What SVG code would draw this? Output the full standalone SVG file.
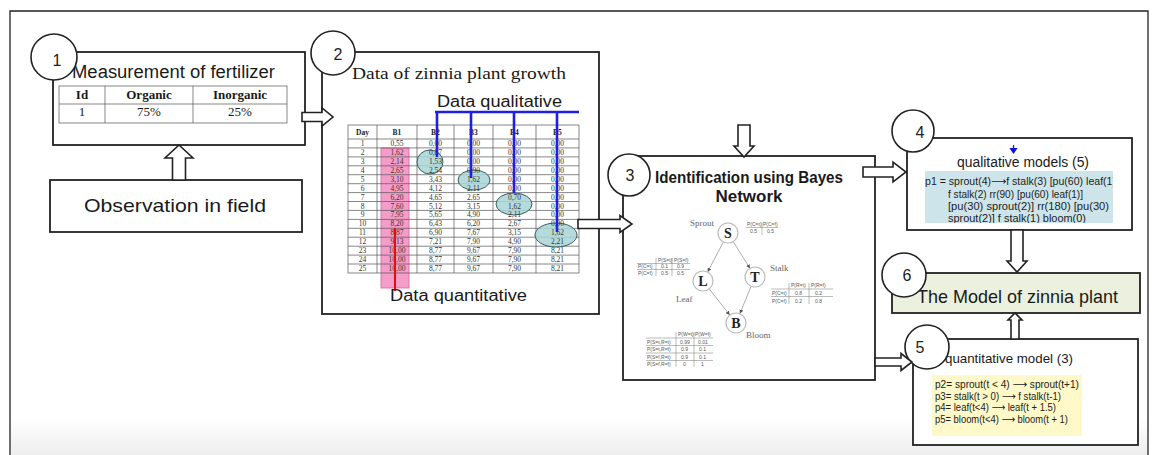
<svg xmlns="http://www.w3.org/2000/svg" width="1155" height="455" viewBox="0 0 1155 455">
  <style>
    .box { fill: #fff; stroke: #222; stroke-width: 1.8; }
    .num { fill: #fff; stroke: #222; stroke-width: 1.6; }
    .numt { font-family: "Liberation Sans", Arial, sans-serif; font-size: 16px; fill: #222; text-anchor: middle; }
    .sans { font-family: "Liberation Sans", Arial, sans-serif; fill: #1a1a1a; }
    .serif { font-family: "Liberation Serif", "Times New Roman", serif; fill: #1a1a1a; }
    .hollow { fill: #fff; stroke: #222; stroke-width: 1.6; stroke-linejoin: miter; }
    .grid { stroke: #555; stroke-width: 0.7; fill: none; }
    .cell { font-family: "Liberation Serif", "Times New Roman", serif; font-size: 7.5px; fill: #333; text-anchor: middle; }
    .cellh { font-family: "Liberation Serif", "Times New Roman", serif; font-size: 7.5px; font-weight: bold; fill: #222; text-anchor: middle; }
    .qual { stroke: #1f1fe0; stroke-width: 2.6; fill: none; }
    .oval { fill: #a9d5d6; fill-opacity: 0.85; stroke: #3c5a5c; stroke-width: 1; }
    .tiny { font-family: "Liberation Sans", Arial, sans-serif; font-size: 5px; fill: #555; }
    .tline { stroke: #777; stroke-width: 0.5; }
    .bn { fill: #fff; stroke: #bbb; stroke-width: 1.2; }
    .bnl { font-family: "Liberation Serif", "Times New Roman", serif; font-size: 14px; font-weight: bold; fill: #222; text-anchor: middle; }
    .bnn { font-family: "Liberation Serif", "Times New Roman", serif; font-size: 9px; fill: #666; }
    .edge { stroke: #999; stroke-width: 0.8; fill: none; marker-end: url(#tip); }
    .rule { font-family: "Liberation Sans", Arial, "DejaVu Sans", sans-serif; font-size: 10.5px; fill: #222; }
  </style>
  <defs>
    <marker id="tip" viewBox="0 0 6 6" refX="5.5" refY="3" markerWidth="5" markerHeight="5" orient="auto">
      <path d="M0,0 L6,3 L0,6 z" fill="#555"/>
    </marker>
    <clipPath id="qclip"><rect x="925" y="171" width="188" height="52"/></clipPath>
    <linearGradient id="floor" x1="0" y1="0" x2="0" y2="1">
      <stop offset="0" stop-color="#ffffff"/>
      <stop offset="1" stop-color="#ededed"/>
    </linearGradient>
  </defs>

  <rect width="1155" height="455" fill="#fff"/>
  <rect x="11" y="418" width="1136" height="37" fill="url(#floor)"/>
  <!-- outer frame -->
  <path d="M10,470 V11 H1148 V470" fill="none" stroke="#222" stroke-width="1.3"/>

  <!-- 1: fertilizer measurement -->
  <g id="node-fertilizer">
    <rect class="box" x="53" y="52" width="252" height="93"/>
    <text class="sans" x="72" y="78" font-size="18" textLength="203" lengthAdjust="spacingAndGlyphs">Measurement of fertilizer</text>
    <rect class="grid" x="59" y="86" width="228" height="37" stroke-width="1"/>
    <line class="grid" x1="59" y1="104" x2="287" y2="104" stroke-width="1"/>
    <line class="grid" x1="105" y1="86" x2="105" y2="123" stroke-width="1"/>
    <line class="grid" x1="193" y1="86" x2="193" y2="123" stroke-width="1"/>
    <text class="serif" x="82" y="99" font-size="13" font-weight="bold" text-anchor="middle">Id</text>
    <text class="serif" x="149" y="99" font-size="13" font-weight="bold" text-anchor="middle">Organic</text>
    <text class="serif" x="240" y="99" font-size="13" font-weight="bold" text-anchor="middle">Inorganic</text>
    <text class="serif" x="82" y="116" font-size="13" text-anchor="middle">1</text>
    <text class="serif" x="149" y="116" font-size="13" text-anchor="middle">75%</text>
    <text class="serif" x="240" y="116" font-size="13" text-anchor="middle">25%</text>
    <circle class="num" cx="54" cy="57" r="23"/>
    <text class="numt" x="57" y="66">1</text>
  </g>

  <!-- field observation -->
  <g id="node-observation">
    <rect class="box" x="50" y="180" width="252" height="52"/>
    <text class="sans" x="84" y="212" font-size="19" textLength="182" lengthAdjust="spacingAndGlyphs">Observation in field</text>
  </g>

  <!-- 2: growth data table -->
  <g id="node-growth">
    <rect class="box" x="322" y="52" width="277" height="262"/>
    <text class="serif" x="352" y="79" font-size="17" textLength="214" lengthAdjust="spacingAndGlyphs">Data of zinnia plant growth</text>
    <text class="sans" x="437" y="107" font-size="16" textLength="125" lengthAdjust="spacingAndGlyphs">Data qualitative</text>
    <!-- B1 highlight -->
    <rect x="381" y="148" width="28" height="140" fill="#f59dca" stroke="#d4649e" stroke-width="0.8"/>
    <!-- grid -->
    <g class="grid">
      <rect x="348" y="125" width="231" height="148"/>
      <path d="M348,139H579 M348,147.9H579 M348,156.9H579 M348,165.8H579 M348,174.7H579 M348,183.7H579 M348,192.6H579 M348,201.5H579 M348,210.4H579 M348,219.4H579 M348,228.3H579 M348,237.2H579 M348,246.2H579 M348,255.1H579 M348,264H579"/>
      <path d="M377,125V273 M417,125V273 M454,125V273 M493,125V273 M536,125V273"/>
    </g>
    <!-- highlighted onset values -->
    <ellipse class="oval" cx="430" cy="162" rx="13" ry="12"/>
    <ellipse class="oval" cx="474" cy="180" rx="16" ry="10"/>
    <ellipse class="oval" cx="514" cy="204" rx="18" ry="11"/>
    <ellipse class="oval" cx="556" cy="235" rx="21" ry="12"/>
    <g>
      <text class="cellh" x="362.5" y="135">Day</text><text class="cellh" x="397" y="135">B1</text><text class="cellh" x="435.5" y="135">B2</text><text class="cellh" x="473.5" y="135">B3</text><text class="cellh" x="514.5" y="135">B4</text><text class="cellh" x="557.5" y="135">B5</text>
      <text class="cell" x="362.5" y="146">1</text><text class="cell" x="397" y="146">0,55</text><text class="cell" x="435.5" y="146">0,00</text><text class="cell" x="473.5" y="146">0,00</text><text class="cell" x="514.5" y="146">0,00</text><text class="cell" x="557.5" y="146">0,00</text>
      <text class="cell" x="362.5" y="155">2</text><text class="cell" x="397" y="155">1,62</text><text class="cell" x="435.5" y="155">0,87</text><text class="cell" x="473.5" y="155">0,00</text><text class="cell" x="514.5" y="155">0,00</text><text class="cell" x="557.5" y="155">0,00</text>
      <text class="cell" x="362.5" y="164">3</text><text class="cell" x="397" y="164">2,14</text><text class="cell" x="435.5" y="164">1,53</text><text class="cell" x="473.5" y="164">0,00</text><text class="cell" x="514.5" y="164">0,00</text><text class="cell" x="557.5" y="164">0,00</text>
      <text class="cell" x="362.5" y="173">4</text><text class="cell" x="397" y="173">2,65</text><text class="cell" x="435.5" y="173">2,54</text><text class="cell" x="473.5" y="173">0,90</text><text class="cell" x="514.5" y="173">0,00</text><text class="cell" x="557.5" y="173">0,00</text>
      <text class="cell" x="362.5" y="181.7">5</text><text class="cell" x="397" y="181.7">3,10</text><text class="cell" x="435.5" y="181.7">3,43</text><text class="cell" x="473.5" y="181.7">1,62</text><text class="cell" x="514.5" y="181.7">0,00</text><text class="cell" x="557.5" y="181.7">0,00</text>
      <text class="cell" x="362.5" y="190.7">6</text><text class="cell" x="397" y="190.7">4,95</text><text class="cell" x="435.5" y="190.7">4,12</text><text class="cell" x="473.5" y="190.7">2,11</text><text class="cell" x="514.5" y="190.7">0,00</text><text class="cell" x="557.5" y="190.7">0,00</text>
      <text class="cell" x="362.5" y="199.6">7</text><text class="cell" x="397" y="199.6">6,20</text><text class="cell" x="435.5" y="199.6">4,65</text><text class="cell" x="473.5" y="199.6">2,65</text><text class="cell" x="514.5" y="199.6">0,70</text><text class="cell" x="557.5" y="199.6">0,00</text>
      <text class="cell" x="362.5" y="208.5">8</text><text class="cell" x="397" y="208.5">7,60</text><text class="cell" x="435.5" y="208.5">5,12</text><text class="cell" x="473.5" y="208.5">3,15</text><text class="cell" x="514.5" y="208.5">1,62</text><text class="cell" x="557.5" y="208.5">0,00</text>
      <text class="cell" x="362.5" y="217.4">9</text><text class="cell" x="397" y="217.4">7,95</text><text class="cell" x="435.5" y="217.4">5,65</text><text class="cell" x="473.5" y="217.4">4,90</text><text class="cell" x="514.5" y="217.4">2,11</text><text class="cell" x="557.5" y="217.4">0,00</text>
      <text class="cell" x="362.5" y="226.4">10</text><text class="cell" x="397" y="226.4">8,20</text><text class="cell" x="435.5" y="226.4">6,43</text><text class="cell" x="473.5" y="226.4">6,20</text><text class="cell" x="514.5" y="226.4">2,67</text><text class="cell" x="557.5" y="226.4">0,90</text>
      <text class="cell" x="362.5" y="235.3">11</text><text class="cell" x="397" y="235.3">8,87</text><text class="cell" x="435.5" y="235.3">6,90</text><text class="cell" x="473.5" y="235.3">7,67</text><text class="cell" x="514.5" y="235.3">3,15</text><text class="cell" x="557.5" y="235.3">1,62</text>
      <text class="cell" x="362.5" y="244.2">12</text><text class="cell" x="397" y="244.2">9,13</text><text class="cell" x="435.5" y="244.2">7,21</text><text class="cell" x="473.5" y="244.2">7,90</text><text class="cell" x="514.5" y="244.2">4,90</text><text class="cell" x="557.5" y="244.2">2,21</text>
      <text class="cell" x="362.5" y="253.2">23</text><text class="cell" x="397" y="253.2">10,00</text><text class="cell" x="435.5" y="253.2">8,77</text><text class="cell" x="473.5" y="253.2">9,67</text><text class="cell" x="514.5" y="253.2">7,90</text><text class="cell" x="557.5" y="253.2">8,21</text>
      <text class="cell" x="362.5" y="262.1">24</text><text class="cell" x="397" y="262.1">10,00</text><text class="cell" x="435.5" y="262.1">8,77</text><text class="cell" x="473.5" y="262.1">9,67</text><text class="cell" x="514.5" y="262.1">7,90</text><text class="cell" x="557.5" y="262.1">8,21</text>
      <text class="cell" x="362.5" y="271">25</text><text class="cell" x="397" y="271">10,00</text><text class="cell" x="435.5" y="271">8,77</text><text class="cell" x="473.5" y="271">9,67</text><text class="cell" x="514.5" y="271">7,90</text><text class="cell" x="557.5" y="271">8,21</text>
    </g>
    <!-- qualitative markers -->
    <path class="qual" d="M435,112H579 M437,112V157 M471,112V178 M514,112V193 M557,112V232"/>
    <!-- quantitative marker -->
    <line x1="395" y1="228" x2="395" y2="291" stroke="#e01010" stroke-width="2"/>
    <text class="sans" x="390" y="301" font-size="16" textLength="137" lengthAdjust="spacingAndGlyphs">Data quantitative</text>
    <circle class="num" cx="333" cy="53" r="22"/>
    <text class="numt" x="338" y="60">2</text>
  </g>

  <!-- 3: Bayes network identification -->
  <g id="node-bayes">
    <rect class="box" x="623" y="156" width="252" height="224"/>
    <text class="sans" x="749" y="183" font-size="17" font-weight="bold" text-anchor="middle" textLength="188" lengthAdjust="spacingAndGlyphs">Identification using Bayes</text>
    <text class="sans" x="749" y="202" font-size="17" font-weight="bold" text-anchor="middle">Network</text>
    <!-- network edges -->
    <line class="edge" x1="723.4" y1="241.9" x2="707.8" y2="271.7"/>
    <line class="edge" x1="733.2" y1="241.5" x2="749.8" y2="268.1"/>
    <line class="edge" x1="709.2" y1="288.9" x2="729.5" y2="314.7"/>
    <line class="edge" x1="751.2" y1="286.2" x2="740" y2="313.3"/>
    <!-- variables -->
    <circle class="bn" cx="728" cy="233" r="10"/><text class="bnl" x="728" y="238">S</text>
    <circle class="bn" cx="703" cy="281" r="10"/><text class="bnl" x="703" y="286">L</text>
    <circle class="bn" cx="755" cy="277" r="10"/><text class="bnl" x="755" y="282">T</text>
    <circle class="bn" cx="736" cy="323" r="10"/><text class="bnl" x="736" y="328">B</text>
    <text class="bnn" x="690" y="226">Sprout</text>
    <text class="bnn" x="676" y="302">Leaf</text>
    <text class="bnn" x="770" y="271">Stalk</text>
    <text class="bnn" x="746" y="338">Bloom</text>
    <!-- probability tables -->
    <g>
      <text class="tiny" x="747" y="226">P(C=t)</text><text class="tiny" x="763" y="226">P(C=f)</text>
      <line class="tline" x1="746" y1="227.5" x2="778" y2="227.5"/><line class="tline" x1="762" y1="222" x2="762" y2="235"/>
      <text class="tiny" x="750" y="233">0.5</text><text class="tiny" x="767" y="233">0.5</text>

      <text class="tiny" x="658" y="262">P(S=t)</text><text class="tiny" x="674" y="262">P(S=f)</text>
      <line class="tline" x1="637" y1="263.5" x2="690" y2="263.5"/><line class="tline" x1="637" y1="269.5" x2="690" y2="269.5"/>
      <line class="tline" x1="656" y1="258" x2="656" y2="276"/><line class="tline" x1="672" y1="258" x2="672" y2="276"/>
      <text class="tiny" x="638" y="268">P(C=t)</text><text class="tiny" x="661" y="268">0.1</text><text class="tiny" x="677" y="268">0.9</text>
      <text class="tiny" x="638" y="274.5">P(C=f)</text><text class="tiny" x="661" y="274.5">0.5</text><text class="tiny" x="677" y="274.5">0.5</text>

      <text class="tiny" x="791" y="287">P(R=t)</text><text class="tiny" x="811" y="287">P(R=f)</text>
      <line class="tline" x1="771" y1="289" x2="833" y2="289"/><line class="tline" x1="771" y1="296.5" x2="833" y2="296.5"/>
      <line class="tline" x1="789" y1="283" x2="789" y2="304"/><line class="tline" x1="809" y1="283" x2="809" y2="304"/>
      <text class="tiny" x="772" y="295">P(C=t)</text><text class="tiny" x="795" y="295">0.8</text><text class="tiny" x="815" y="295">0.2</text>
      <text class="tiny" x="772" y="302.5">P(C=f)</text><text class="tiny" x="795" y="302.5">0.2</text><text class="tiny" x="815" y="302.5">0.8</text>

      <text class="tiny" x="678" y="336">P(W=t)</text><text class="tiny" x="695" y="336">P(W=f)</text>
      <line class="tline" x1="646" y1="338" x2="713" y2="338"/><line class="tline" x1="646" y1="345.5" x2="713" y2="345.5"/>
      <line class="tline" x1="646" y1="353" x2="713" y2="353"/><line class="tline" x1="646" y1="360.5" x2="713" y2="360.5"/>
      <line class="tline" x1="676" y1="332" x2="676" y2="367"/><line class="tline" x1="694" y1="332" x2="694" y2="367"/>
      <text class="tiny" x="647" y="343.5">P(S=t,R=t)</text><text class="tiny" x="680" y="343.5">0.99</text><text class="tiny" x="698" y="343.5">0.01</text>
      <text class="tiny" x="647" y="351">P(S=t,R=f)</text><text class="tiny" x="681" y="351">0.9</text><text class="tiny" x="699" y="351">0.1</text>
      <text class="tiny" x="647" y="358.5">P(S=f,R=t)</text><text class="tiny" x="681" y="358.5">0.9</text><text class="tiny" x="699" y="358.5">0.1</text>
      <text class="tiny" x="647" y="366">P(S=f,R=f)</text><text class="tiny" x="683" y="366">0</text><text class="tiny" x="701" y="366">1</text>
    </g>
    <circle class="num" cx="629" cy="175" r="21"/>
    <text class="numt" x="630" y="181">3</text>
  </g>

  <!-- 4: qualitative models -->
  <g id="node-qualitative">
    <rect class="box" x="907" y="138" width="225" height="92"/>
    <text class="sans" x="957" y="167" font-size="14" textLength="132" lengthAdjust="spacingAndGlyphs">qualitative models (5)</text>
    <path d="M1013.5,145 V149 M1010.5,148.5 L1016.5,148.5 L1013.5,153 z" stroke="#1010e0" stroke-width="1.2" fill="#1010e0"/>
    <rect x="925" y="171" width="188" height="52" fill="#cde5ea"/>
    <g clip-path="url(#qclip)">
      <text class="rule" x="925" y="185" textLength="191" lengthAdjust="spacingAndGlyphs">p1 = sprout(4)⟶f stalk(3) [pu(60) leaf(1)</text>
      <text class="rule" x="948" y="197.5" textLength="135" lengthAdjust="spacingAndGlyphs">f stalk(2) rr(90) [pu(60) leaf(1)]</text>
      <text class="rule" x="948" y="210" textLength="161" lengthAdjust="spacingAndGlyphs">[pu(30) sprout(2)] rr(180) [pu(30)</text>
      <text class="rule" x="948" y="222" textLength="138" lengthAdjust="spacingAndGlyphs">sprout(2)] f stalk(1) bloom(0)</text>
    </g>
    <circle class="num" cx="913" cy="131" r="21"/>
    <text class="numt" x="920" y="138">4</text>
  </g>

  <!-- 6: resulting model -->
  <g id="node-model">
    <rect x="892" y="273" width="248" height="40" fill="#ebf1de" stroke="#222" stroke-width="1.8"/>
    <text class="sans" x="917" y="303" font-size="19" textLength="201" lengthAdjust="spacingAndGlyphs">The Model of zinnia plant</text>
    <circle class="num" cx="904" cy="275" r="22"/>
    <text class="numt" x="907" y="281">6</text>
  </g>

  <!-- 5: quantitative model -->
  <g id="node-quantitative">
    <rect class="box" x="913" y="339" width="225" height="106"/>
    <text class="sans" x="945" y="363" font-size="13.5" textLength="128" lengthAdjust="spacingAndGlyphs">quantitative model (3)</text>
    <rect x="932" y="375" width="150" height="61" fill="#fff8c8"/>
    <text class="rule" x="935" y="388" textLength="144" lengthAdjust="spacingAndGlyphs">p2= sprout(t &lt; 4) ⟶ sprout(t+1)</text>
    <text class="rule" x="935" y="399.5" textLength="126" lengthAdjust="spacingAndGlyphs">p3= stalk(t &gt; 0) ⟶ f stalk(t-1)</text>
    <text class="rule" x="935" y="411" textLength="121" lengthAdjust="spacingAndGlyphs">p4= leaf(t&lt;4) ⟶ leaf(t + 1.5)</text>
    <text class="rule" x="935" y="422.5" textLength="133" lengthAdjust="spacingAndGlyphs">p5= bloom(t&lt;4) ⟶ bloom(t + 1)</text>
    <circle class="num" cx="927" cy="347" r="22"/>
    <text class="numt" x="920" y="353">5</text>
  </g>

  <!-- hollow block arrows between stages -->
  <g id="connectors">
    <polygon class="hollow" points="172.5,180 172.5,158 165,158 179,145 193,158 185.5,158 185.5,180"/>
    <polygon class="hollow" points="302,112.5 322,112.5 322,108 333,117 322,126 322,121.5 302,121.5"/>
    <polygon class="hollow" points="578,219.5 620,219.5 620,215.5 632,224 620,232.5 620,228.5 578,228.5"/>
    <polygon class="hollow" points="738,125 738,146 734,146 744,157 754,146 750,146 750,125"/>
    <polygon class="hollow" points="863,167 893,167 893,162 906,172 893,182 893,177 863,177"/>
    <polygon class="hollow" points="875,358 901,358 901,353.5 912,362 901,370.5 901,366 875,366"/>
    <polygon class="hollow" points="1011,230 1011,261 1007,261 1017,272 1027,261 1023,261 1023,230"/>
    <polygon class="hollow" points="1011,339 1011,320 1008,320 1015,313 1022,320 1019,320 1019,339"/>
  </g>
</svg>
